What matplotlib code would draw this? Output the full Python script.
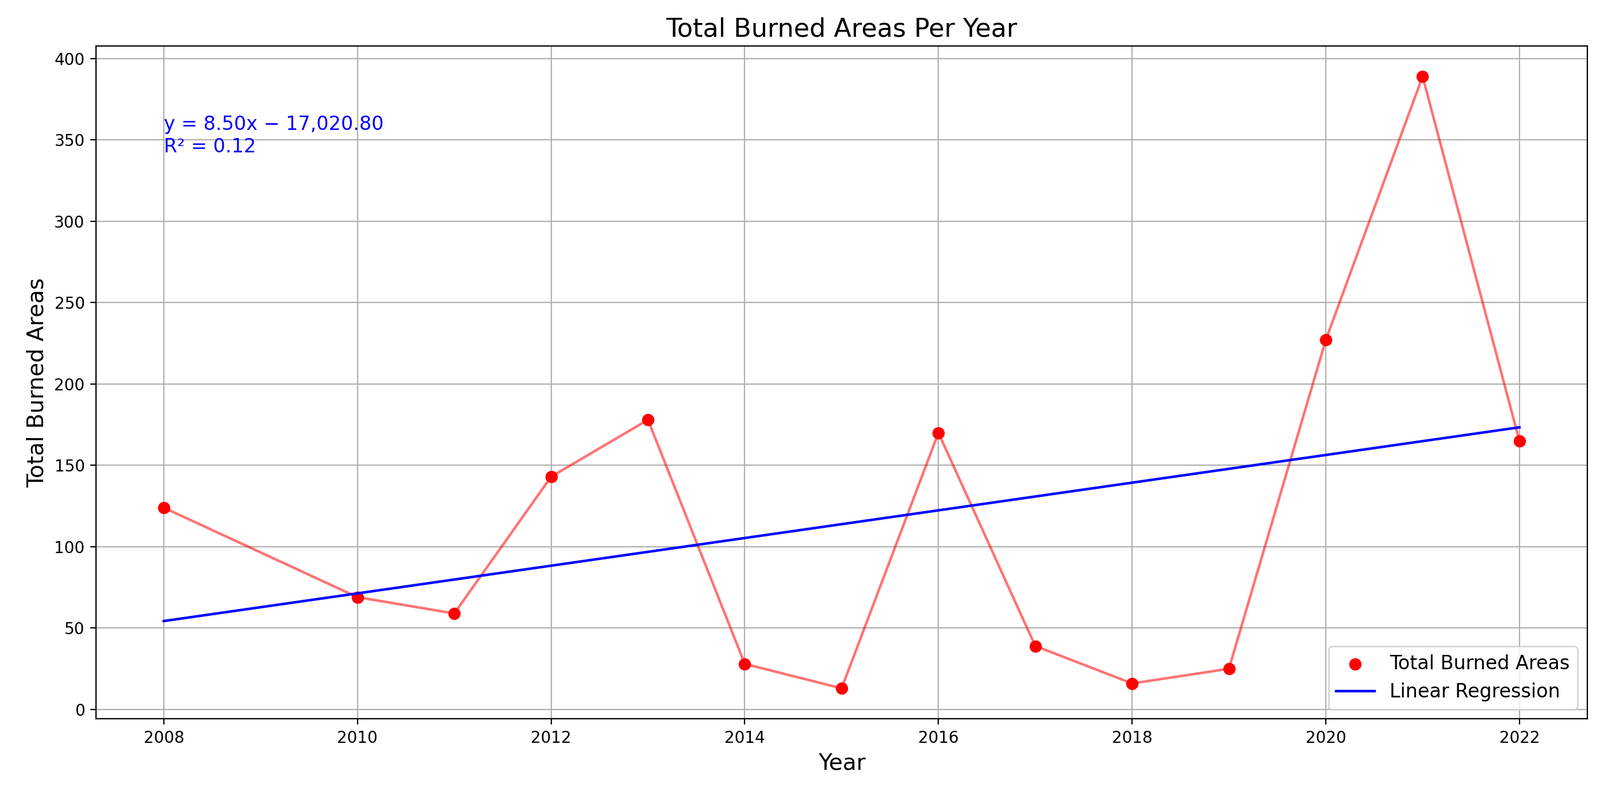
import numpy as np
import matplotlib
matplotlib.use("Agg")
import matplotlib.pyplot as plt

years = [2008, 2010, 2011, 2012, 2013, 2014, 2015, 2016, 2017, 2018, 2019, 2020, 2021, 2022]
burned = [124, 69, 59, 143, 178, 28, 13, 170, 39, 16, 25, 227, 389, 165]

x = np.array(years)
y = np.array(burned)
slope, intercept = np.polyfit(x, y, 1)

fig, ax = plt.subplots(figsize=(13.915, 6.87), dpi=200)
fig.subplots_adjust(left=0.06, right=0.992, top=0.942, bottom=0.09)

ax.plot(x, y, color="red", alpha=0.55, linewidth=1.6, zorder=2)
ax.scatter(x, y, color="red", s=45, zorder=3, label="Total Burned Areas")
ax.plot(x, slope * x + intercept, color="blue", linewidth=1.6, zorder=3, label="Linear Regression")

ax.text(2008, 340, "y = 8.50x \u2212 17,020.80\nR\u00b2 = 0.12", color="blue", fontsize=12,
        va="bottom", ha="left")

ax.set_title("Total Burned Areas Per Year", fontsize=16)
ax.set_xlabel("Year", fontsize=14)
ax.set_ylabel("Total Burned Areas", fontsize=14)
ax.set_xticks(range(2008, 2023, 2))
ax.set_yticks(range(0, 401, 50))
ax.tick_params(labelsize=10)
ax.grid(True, color="#b0b0b0", linewidth=0.8)
ax.set_axisbelow(True)
ax.legend(loc="lower right", fontsize=12)

fig.savefig("out.png", dpi=200)
plt.close(fig)
